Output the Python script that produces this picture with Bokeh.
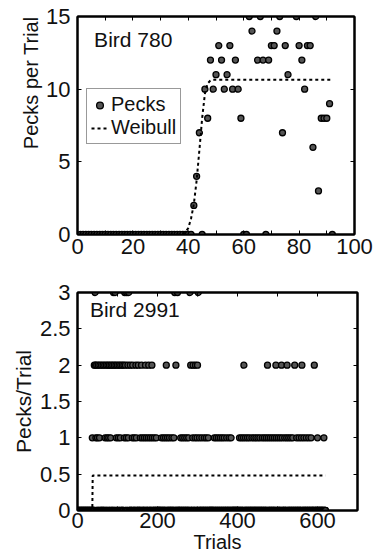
from bokeh.plotting import figure
from bokeh.layouts import column
from bokeh.models import (Range1d, LinearAxis, FixedTicker, Legend, LegendItem,
                          Label, NumeralTickFormatter, Title)
from bokeh.embed import file_html
from bokeh.resources import INLINE

FONT = "Liberation Sans"

# ---------------- Bird 780 (top panel) ----------------
b780_trials = list(range(1, 42)) + [
    42, 43, 44, 45, 46, 47, 48, 49, 50, 51, 52, 53, 54, 55, 56, 57, 58, 59,
    60, 61, 62, 63, 65, 66, 67, 68, 69, 70, 71, 72, 73, 74, 75, 76,
    79, 80, 81, 82, 83, 84, 85, 86, 87, 88, 89, 90, 91, 92]
b780_pecks = [0] * 41 + [
    2, 4, 7, 0, 10, 8, 12, 10, 11, 13, 12, 10, 11, 13, 10, 12, 10, 8,
    0, 0, 15, 14, 12, 15, 12, 0, 12, 13, 13, 14, 15, 7, 13, 11,
    15, 13, 12, 10, 13, 13, 6, 15, 3, 8, 8, 8, 9, 0]
b780_fit_x = [1, 37, 38, 39, 40, 41, 42, 43, 44, 45, 46, 47, 48, 49, 92]
b780_fit_y = [0, 0, 0.05, 0.15, 0.45, 1.1, 2.1, 3.7, 5.8, 8.0, 9.7, 10.4, 10.6, 10.65, 10.65]
b780_xticks = [0, 20, 40, 60, 80, 100]
b780_xall = [0, 10, 20, 30, 40, 50, 60, 70, 80, 90, 100]
b780_yticks = [0, 5, 10, 15]

# ---------------- Bird 2991 (bottom panel) ----------------
b2991_ntrials = 620
b2991_three = [44, 90, 94, 118, 123, 128, 243, 250, 281, 302]
b2991_two = [42, 45, 48, 52, 56, 60, 64, 68, 72, 76, 80, 84, 88, 92, 96, 100,
             104, 108, 112, 116, 120, 126, 132, 138, 146, 152, 160, 170, 178,
             186, 222, 246, 283, 289, 295, 300, 416, 475, 496, 510, 524, 543,
             561, 592]
b2991_one = [37, 42, 46, 50, 55, 60, 64, 69, 74, 78, 83, 88, 92, 97, 102, 107,
             112, 117, 122, 127, 132, 137, 142, 147, 152, 157, 162, 167, 172,
             177, 182, 187, 192, 197, 210, 215, 220, 225, 230, 236, 241, 258,
             263, 268, 273, 278, 283, 288, 294, 299, 305, 311, 317, 322, 327,
             342, 347, 352, 357, 362, 367, 373, 379, 384, 405, 410, 415, 420,
             425, 430, 436, 441, 446, 451, 456, 462, 467, 472, 477, 482, 487,
             492, 497, 502, 507, 512, 518, 523, 528, 533, 538, 543, 548, 554,
             560, 566, 572, 578, 584, 592, 600, 616]
b2991_fit_x = [1, 37, 38, 620]
b2991_fit_y = [0, 0, 0.48, 0.48]
b2991_xticks = [0, 200, 400, 600]
b2991_xall = [0, 100, 200, 300, 400, 500, 600, 700]
b2991_yticks = [0, 0.5, 1, 1.5, 2, 2.5, 3]

b2991_trials, b2991_pecks = [], []
for t in range(1, b2991_ntrials + 1):
    if t in b2991_three:
        v = 3
    elif t in b2991_two:
        v = 2
    elif t in b2991_one:
        v = 1
    else:
        v = 0
    b2991_trials.append(t)
    b2991_pecks.append(v)

TICK_FS = "22px"
TXT = "#111111"


def frame_axes(p, xticks, xall, yticks):
    bx = p.below[0]
    ly = p.left[0]
    minor_x = [v for v in xall if v not in xticks]
    bx.ticker = FixedTicker(ticks=xticks, minor_ticks=minor_x)
    ly.ticker = FixedTicker(ticks=yticks, minor_ticks=[])
    # top / right frame ticks: only (label-less) minor ticks
    top = LinearAxis(ticker=FixedTicker(ticks=[], minor_ticks=xall))
    right = LinearAxis(ticker=FixedTicker(ticks=[], minor_ticks=yticks))
    p.add_layout(top, "above")
    p.add_layout(right, "right")
    for ax in [bx, ly, top, right]:
        ax.axis_line_color = "black"
        ax.axis_line_width = 2
        ax.major_tick_in = 4
        ax.major_tick_out = 0
        ax.minor_tick_in = 4
        ax.minor_tick_out = 0
        ax.major_tick_line_color = "black"
        ax.minor_tick_line_color = "black"
        ax.major_tick_line_width = 1
        ax.minor_tick_line_width = 1
        ax.major_label_text_font = FONT
        ax.major_label_text_font_size = TICK_FS
        ax.major_label_text_color = TXT
        ax.axis_label_text_font = FONT
        ax.axis_label_text_font_style = "normal"
        ax.axis_label_text_color = TXT
        ax.axis_label_text_font_size = "20px"
    p.outline_line_color = "black"
    p.outline_line_width = 2
    p.grid.visible = False
    p.background_fill_color = "white"
    p.border_fill_color = "white"
    return bx, ly


def side_title(p, text, align, offset, standoff, size):
    t = Title(text=text, align=align, offset=offset, standoff=standoff,
              text_font=FONT, text_font_size=size, text_font_style="normal",
              text_color=TXT)
    p.add_layout(t, "left")


# ---------------- top figure ----------------
p1 = figure(frame_width=277, frame_height=218, output_backend="svg",
            toolbar_location=None, x_range=Range1d(0, 100), y_range=Range1d(0, 15),
            min_border_left=76, min_border_right=23, min_border_top=16,
            min_border_bottom=36)
pts1 = p1.scatter(b780_trials, b780_pecks, marker="circle", size=6,
                  fill_color="#555555", line_color="black", line_width=1.3)
fit1 = p1.line(b780_fit_x, b780_fit_y, line_color="black", line_width=2,
               line_dash="3 3")
bx1, ly1 = frame_axes(p1, b780_xticks, b780_xall, b780_yticks)
ly1.major_label_standoff = 7
bx1.major_label_standoff = 4
side_title(p1, "Pecks per Trial", "right", 0, 4, "20px")
p1.add_layout(Label(x=6, y=13.45, text="Bird 780", text_baseline="middle",
                    text_font=FONT, text_font_size="21px", text_color=TXT))
leg = Legend(items=[LegendItem(label="Pecks", renderers=[pts1]),
                    LegendItem(label="Weibull", renderers=[fit1])],
             location=(9, 90), orientation="vertical")
leg.border_line_color = "#333333"
leg.border_line_width = 1
leg.background_fill_color = "white"
leg.background_fill_alpha = 1
leg.label_text_font = FONT
leg.label_text_font_size = "20px"
leg.label_text_color = TXT
leg.glyph_width = 17
leg.glyph_height = 20
leg.label_height = 20
leg.label_standoff = 3
leg.padding = 4
leg.spacing = 0
leg.margin = 0
p1.add_layout(leg)

# ---------------- bottom figure ----------------
p2 = figure(frame_width=280, frame_height=218, output_backend="svg",
            toolbar_location=None, x_range=Range1d(0, 700), y_range=Range1d(0, 3),
            min_border_left=77, min_border_right=19, min_border_top=22,
            min_border_bottom=46)
p2.scatter(b2991_trials, b2991_pecks, marker="circle", size=6,
           fill_color="#555555", line_color="black", line_width=1.3)
p2.line(b2991_fit_x, b2991_fit_y, line_color="black", line_width=2,
        line_dash="3 3")
bx2, ly2 = frame_axes(p2, b2991_xticks, b2991_xall, b2991_yticks)
ly2.formatter = NumeralTickFormatter(format="0.[0]")
ly2.major_label_standoff = 7
bx2.axis_label = "Trials"
bx2.major_label_standoff = 2
bx2.axis_label_standoff = 0
side_title(p2, "Pecks/Trial", "center", 11, 4, "21px")
p2.add_layout(Label(x=31, y=2.76, text="Bird 2991", text_baseline="middle",
                    text_font=FONT, text_font_size="21px", text_color=TXT))

layout = column(p1, p2, spacing=0)
open("out.html", "w").write(file_html(layout, INLINE))
